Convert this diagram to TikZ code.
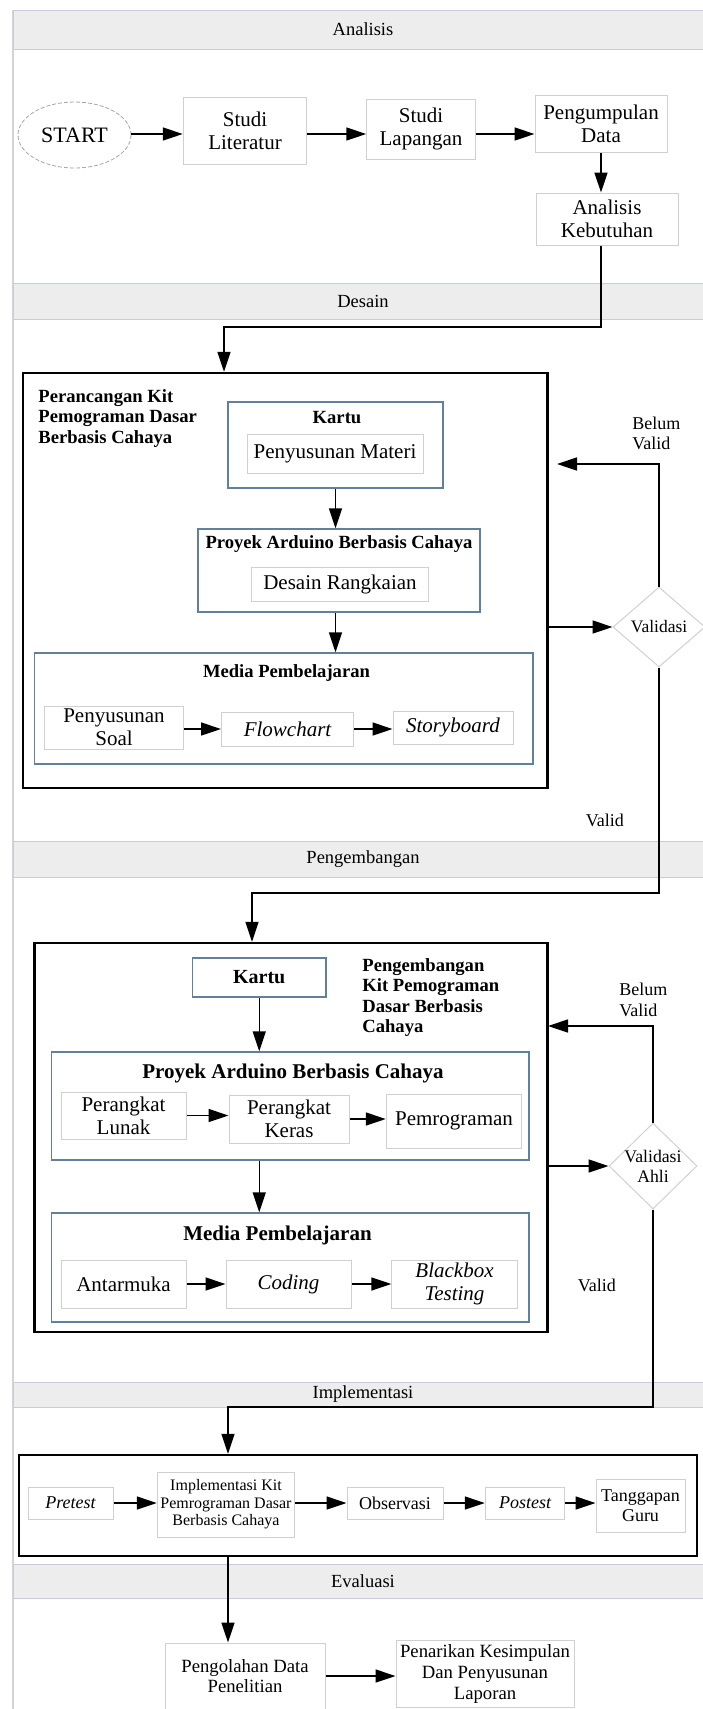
\documentclass[tikz,border=0pt]{standalone}
\usepackage{fontspec}
\setmainfont{Liberation Serif}
\usetikzlibrary{shapes.geometric,arrows.meta}
\definecolor{bandgray}{RGB}{237,237,237}
\definecolor{bandline}{RGB}{200,206,216}
\definecolor{boxgray}{RGB}{208,208,208}
\definecolor{boxblue}{RGB}{96,128,158}
\definecolor{lanegray}{RGB}{212,212,212}

\begin{document}
\begin{tikzpicture}[x=0.5pt,y=0.5pt]
            \tikzstyle{every node}+=[inner sep=0pt]
            \tikzstyle{band}=[draw=bandline, fill=bandgray, line width=0.5pt, minimum width=350pt, font=\fontsize{9.25}{10}\selectfont]
            \tikzstyle{box}=[draw=boxgray, line width=0.5pt, align=center, font=\fontsize{10.5}{11.5}\selectfont]
            \tikzstyle{ibox}=[box, font=\itshape\fontsize{10.5}{11.5}\selectfont]
            \tikzstyle{bluebox}=[draw=boxblue, line width=0.7pt]
            \tikzstyle{kit}=[draw=black, line width=1.2pt]
            \tikzstyle{title}=[align=left, font=\bfseries\fontsize{9.3}{10.25}\selectfont]
            \tikzstyle{note}=[align=left, font=\fontsize{9}{10.25}\selectfont]
            \tikzstyle{decision}=[diamond, draw=boxgray, line width=0.5pt]
            \tikzstyle{startnode}=[ellipse, draw=gray!70, line width=0.4pt, dash pattern=on 2pt off 1pt, font=\fontsize{11}{12}\selectfont]
            \tikzstyle{arr}=[-{Triangle[length=10pt,width=6.5pt]}, line width=0.75pt]
            \useasboundingbox (0,0) rectangle (702,-1709);
            % lanes
            \draw [lanegray, line width=0.6pt] (13,-10) -- (13,-1709);
            \node [band, minimum height=19.5pt] (analisis) at (363,-29.5) {Analisis};
            \node [band, minimum height=18pt] (desain) at (363,-301) {Desain};
            \node [band, minimum height=18pt] (pengembangan) at (363,-859) {Pengembangan};
            \node [band, minimum height=12.5pt] (implementasi) at (363,-1394.5) {Implementasi};
            \node [band, minimum height=17pt] (evaluasi) at (363,-1581) {Evaluasi};
            % analisis
            \node [startnode, minimum width=56.5pt, minimum height=33pt] (start) at (74.5,-135) {START};
            \node [box, minimum width=61.75pt, minimum height=33.5pt] (lit) at (245,-130.5) {Studi\\Literatur};
            \node [box, minimum width=54.25pt, minimum height=30pt] (lap) at (421,-129) {Studi\\Lapangan};
            \node [box, minimum width=66pt, minimum height=28.5pt] (peng) at (601,-123.5) {Pengumpulan\\Data};
            \node [box, minimum width=71pt, minimum height=26pt] (keb) at (607,-219) {Analisis\\Kebutuhan};
            \coordinate (rowA) at (0,-134);
            \coordinate (d1) at (224,-327);
            % desain
            \node [kit, minimum width=262.25pt, minimum height=207.5pt] (frameD) at (285.25,-580.5) {};
            \node [title, anchor=north west] (titleD) at (38,-389) {Perancangan Kit\\Pemograman Dasar\\Berbasis Cahaya};
            \node [bluebox, minimum width=107.5pt, minimum height=43pt] (kartuD) at (335.5,-445) {};
            \node [title, anchor=base] (kartuDt) at (337,-423) {Kartu};
            \node [box, minimum width=88pt, minimum height=19.5pt] (materi) at (335,-453.5) {Penyusunan Materi};
            \node [bluebox, minimum width=141pt, minimum height=41.5pt] (proyekD) at (339,-570.5) {};
            \node [title, anchor=base] (proyekDt) at (339,-548) {Proyek Arduino Berbasis Cahaya};
            \node [box, minimum width=88.75pt, minimum height=17pt] (rangkai) at (340,-584) {Desain Rangkaian};
            \node [bluebox, minimum width=249.25pt, minimum height=55.5pt] (mediaD) at (283.75,-708.5) {};
            \node [title, anchor=base] (mediaDt) at (286.5,-677) {Media Pembelajaran};
            \node [box, minimum width=69.75pt, minimum height=21.5pt] (soal) at (114,-727.5) {Penyusunan\\Soal};
            \node [ibox, minimum width=66pt, minimum height=17pt] (flow) at (287.5,-729) {Flowchart};
            \node [ibox, minimum width=60pt, minimum height=16.5pt] (story) at (453,-727.5) {Storyboard};
            \coordinate (rowD) at (0,-729);
            \node [decision, minimum width=46pt, minimum height=40pt] (val1) at (659,-627) {};
            \node [note, font=\fontsize{8.75}{10}\selectfont] (val1t) at (val1) {Validasi};
            \node [note, anchor=north west] (belum1) at (632,-416.5) {Belum\\Valid};
            \node [note, anchor=base west] (valid1) at (585.5,-826) {Valid};
            \coordinate (bv1) at (557,-464);
            \coordinate (d2) at (252,-893);
            % pengembangan
            \node [kit, minimum width=256.5pt, minimum height=194.5pt] (frameP) at (291,-1137.5) {};
            \node [bluebox, minimum width=66.75pt, minimum height=19.5pt, font=\bfseries\fontsize{10}{11}\selectfont] (kartuP) at (259.25,-977.5) {Kartu};
            \node [title, anchor=north west] (titleP) at (362,-958) {Pengembangan\\Kit Pemograman\\Dasar Berbasis\\Cahaya};
            \node [bluebox, minimum width=238.75pt, minimum height=54pt] (proyekP) at (290.25,-1106) {};
            \node [title, anchor=base, font=\bfseries\fontsize{10.5}{11.5}\selectfont] (proyekPt) at (293,-1078) {Proyek Arduino Berbasis Cahaya};
            \node [box, minimum width=62.5pt, minimum height=23.5pt] (lunak) at (123.5,-1115.5) {Perangkat\\Lunak};
            \node [box, minimum width=60pt, minimum height=24pt] (keras) at (289,-1119) {Perangkat\\Keras};
            \node [box, minimum width=67.75pt, minimum height=27pt] (pemro) at (454,-1121) {Pemrograman};
            \node [bluebox, minimum width=238.75pt, minimum height=54.5pt] (mediaP) at (290.25,-1267.5) {};
            \node [title, anchor=base, font=\bfseries\fontsize{10.5}{11.5}\selectfont] (mediaPt) at (277.5,-1240) {Media Pembelajaran};
            \node [box, minimum width=62.5pt, minimum height=24pt] (antar) at (123.5,-1284) {Antarmuka};
            \node [ibox, minimum width=62.5pt, minimum height=24pt] (coding) at (288.5,-1284) {Coding};
            \node [ibox, minimum width=62.65pt, minimum height=24pt] (black) at (454.5,-1284) {Blackbox\\Testing};
            \node [decision, minimum width=44pt, minimum height=43pt] (val2) at (653,-1166) {};
            \node [note, align=center, font=\fontsize{8.85}{10}\selectfont] (val2t) at (val2) {Validasi\\Ahli};
            \node [note, anchor=north west] (belum2) at (619,-983) {Belum\\Valid};
            \node [note, anchor=base west] (valid2) at (577.5,-1291) {Valid};
            \coordinate (bv2) at (548,-1026);
            \coordinate (d3) at (228,-1407);
            % implementasi
            \node [kit, minimum width=339pt, minimum height=50.5pt] (frameI) at (358,-1505.5) {};
            \node [ibox, font=\itshape\fontsize{9}{10}\selectfont, minimum width=42.5pt, minimum height=16pt] (pre) at (70.5,-1503) {Pretest};
            \node [box, font=\fontsize{8}{8.75}\selectfont, minimum width=68.75pt, minimum height=32.5pt] (impl) at (226,-1504.5) {Implementasi Kit\\Pemrograman Dasar\\Berbasis Cahaya};
            \node [box, font=\fontsize{9}{10}\selectfont, minimum width=48pt, minimum height=16pt] (obs) at (395,-1503) {Observasi};
            \node [ibox, font=\itshape\fontsize{9}{10}\selectfont, minimum width=39.75pt, minimum height=16pt] (post) at (525,-1503) {Postest};
            \node [box, font=\fontsize{9}{10}\selectfont, minimum width=44.5pt, minimum height=26.5pt] (tang) at (640.5,-1505.5) {Tanggapan\\Guru};
            \coordinate (rowI) at (0,-1503);
            % evaluasi
            \node [box, font=\fontsize{9.35}{10}\selectfont, minimum width=80pt, minimum height=33pt] (olah) at (245,-1676) {Pengolahan Data\\Penelitian};
            \node [box, font=\fontsize{9.35}{10.5}\selectfont, minimum width=89pt, minimum height=33.5pt] (tarik) at (485,-1673.5) {Penarikan Kesimpulan\\Dan Penyusunan\\Laporan};
            % connectors
            \draw [arr] (start.east |- rowA) -- (lit.west |- rowA);
            \draw [arr] (lit.east |- rowA) -- (lap.west |- rowA);
            \draw [arr] (lap.east |- rowA) -- (peng.west |- rowA);
            \draw [arr] (peng.south) -- (peng.south |- keb.north);
            \draw [arr] (keb.south -| peng.south) |- (d1) -- (d1 |- frameD.north);
            \draw [arr] (kartuD.south) -- (kartuD.south |- proyekD.north);
            \draw [arr] (proyekD.south -| kartuD.south) -- (kartuD.south |- mediaD.north);
            \draw [arr] (soal.east |- rowD) -- (flow.west |- rowD);
            \draw [arr] (flow.east |- rowD) -- (story.west |- rowD);
            \draw [arr] (frameD.east |- val1) -- (val1.west);
            \draw [arr] (val1.north) |- (bv1);
            \draw [arr] (val1.south) |- (d2) -- (d2 |- frameP.north);
            \draw [arr] (kartuP.south) -- (kartuP.south |- proyekP.north);
            \draw [arr] (proyekP.south -| kartuP.south) -- (kartuP.south |- mediaP.north);
            \draw [arr] (lunak.east) -- (lunak.east -| keras.west);
            \draw [arr] (keras.east) -- (keras.east -| pemro.west);
            \draw [arr] (antar) -- (coding);
            \draw [arr] (coding) -- (black);
            \draw [arr] (frameP.east |- val2) -- (val2.west);
            \draw [arr] (val2.north) |- (bv2);
            \draw [arr] (val2.south) |- (d3) -- (d3 |- frameI.north);
            \draw [arr] (pre.east |- rowI) -- (impl.west |- rowI);
            \draw [arr] (impl.east |- rowI) -- (obs.west |- rowI);
            \draw [arr] (obs.east |- rowI) -- (post.west |- rowI);
            \draw [arr] (post.east |- rowI) -- (tang.west |- rowI);
            \draw [arr] (d3 |- frameI.south) -- (d3 |- olah.north);
            \draw [arr] (olah.east) -- (olah.east -| tarik.west);
        \end{tikzpicture}
\end{document}
